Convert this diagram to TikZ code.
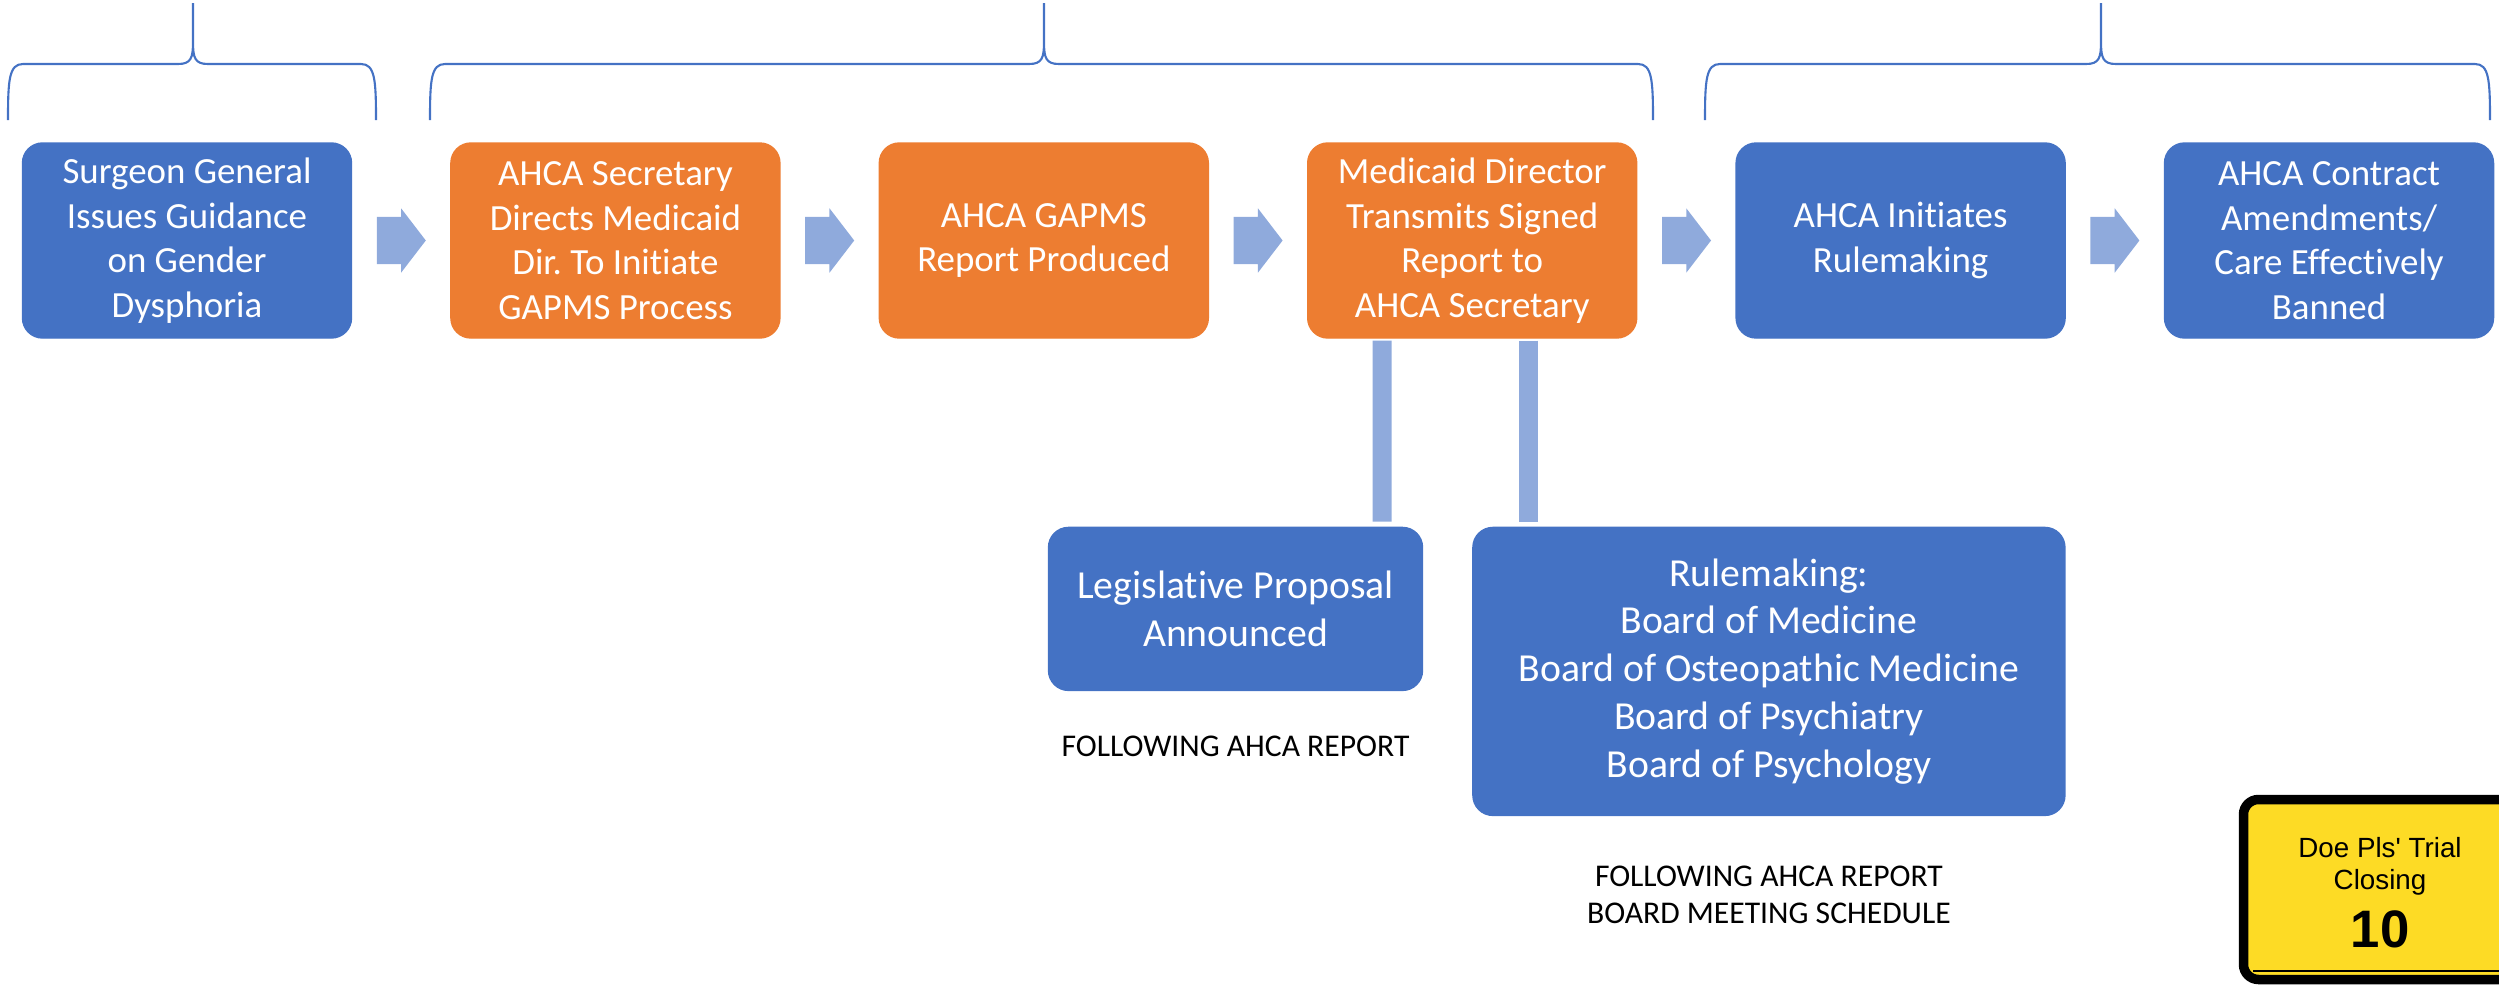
\documentclass[tikz,border=0pt]{standalone}
\usepackage{fontspec}
\setmainfont[Ligatures={NoCommon}]{Carlito}
\newfontfamily\stickerfont{Liberation Sans}
\usepackage{tikz}
\usetikzlibrary{shapes, arrows.meta, positioning}

\definecolor{AhcaBlue}{HTML}{4472C4}
\definecolor{AhcaOrange}{HTML}{ED7D31}
\definecolor{LinkBlue}{HTML}{8FAADC}
\definecolor{StickerYellow}{HTML}{FDDB25}

\frenchspacing
\begin{document}
\begin{tikzpicture}
[
StageNode/.style={rectangle, rounded corners=0.2cm, draw=AhcaBlue, fill=AhcaBlue,
text=white, minimum width=3.29cm, minimum height=1.95cm, align=center,
font=\fontsize{10.5}{12.7}\selectfont},
OrangeNode/.style={StageNode, draw=AhcaOrange, fill=AhcaOrange},
BoardNode/.style={StageNode, font=\fontsize{11.3}{13.6}\selectfont},
NoteNode/.style={align=center, inner sep=0pt, font=\fontsize{9}{10.5}\selectfont},
StepArrow/.style={single arrow, fill=LinkBlue, inner xsep=0pt, inner ysep=0.23cm,
minimum height=0.49cm, minimum width=0.63cm, single arrow head extend=0.085cm,
single arrow tip angle=105, xshift=-0.09cm},
LinkBar/.style={draw=LinkBlue, line width=0.19cm},
BraceLine/.style={draw=AhcaBlue, line width=0.6pt},
StickerNode/.style={rectangle, rounded corners=0.15cm, draw=black, line width=0.095cm,
fill=StickerYellow, minimum width=2.73cm, minimum height=1.8cm, align=center,
font=\stickerfont\fontsize{7.9}{9.1}\selectfont},
node distance=0.98cm
]
\useasboundingbox (0,0) rectangle (24.99,-9.84);

\node[StageNode] (Guidance) at (1.87,-2.405) {Surgeon General\\Issues Guidance\\on Gender\\Dysphoria};
\node[OrangeNode] (Directs) [right=of Guidance] {AHCA Secretary\\Directs Medicaid\\Dir. To Initiate\\GAPMS Process};
\node[OrangeNode] (Report) [right=of Directs] {AHCA GAPMS\\Report Produced};
\node[OrangeNode] (Transmits) [right=of Report] {Medicaid Director\\Transmits Signed\\Report to\\AHCA Secretary};
\node[StageNode] (Initiates) [right=of Transmits] {AHCA Initiates\\Rulemaking};
\node[StageNode] (Banned) [right=of Initiates] {AHCA Contract\\Amendments/\\Care Effectively\\Banned};

\node[BoardNode, minimum width=3.74cm, minimum height=1.63cm] (Legislative)
  [below=1.88cm of Transmits.south, anchor=north east, xshift=-0.49cm] {Legislative Proposal\\Announced};
\node[BoardNode, minimum width=5.92cm, minimum height=2.88cm] (Boards)
  [below=1.88cm of Transmits.south, anchor=north west] {Rulemaking:\\Board of Medicine\\Board of Osteopathic Medicine\\Board of Psychiatry\\Board of Psychology};
\node[NoteNode] (LegislativeNote) [below=0.44cm of Legislative] {FOLLOWING AHCA REPORT};
\node[NoteNode] (BoardsNote) [below=0.49cm of Boards] {FOLLOWING AHCA REPORT\\BOARD MEETING SCHEDULE};

\path (Guidance) -- node[StepArrow] {} (Directs);
\path (Directs) -- node[StepArrow] {} (Report);
\path (Report) -- node[StepArrow] {} (Transmits);
\path (Transmits) -- node[StepArrow] {} (Initiates);
\path (Initiates) -- node[StepArrow] {} (Banned);

\draw[LinkBar] ([xshift=-0.9cm, yshift=-0.02cm]Transmits.south) -- ([xshift=-0.41cm, yshift=0.05cm]Legislative.north east);
\draw[LinkBar] ([xshift=0.56cm, yshift=-0.02cm]Transmits.south) -- ([xshift=0.56cm, yshift=0.05cm]Boards.north west);

% braces over the stages
\foreach \xl/\xt/\xr in {0.08/1.93/3.76, 4.30/10.44/16.53, 17.05/21.01/24.90}
  \draw[BraceLine] (\xl,-1.20) .. controls (\xl,-0.80) and (\xl+0.01,-0.64) .. (\xl+0.15,-0.64)
    -- (\xt-0.15,-0.64) .. controls (\xt-0.02,-0.64) and (\xt,-0.58) .. (\xt,-0.42) -- (\xt,-0.03)
    -- (\xt,-0.42) .. controls (\xt,-0.58) and (\xt+0.02,-0.64) .. (\xt+0.15,-0.64)
    -- (\xr-0.15,-0.64) .. controls (\xr-0.01,-0.64) and (\xr,-0.80) .. (\xr,-1.20);

\begin{scope}
\clip (0,0) rectangle (24.99,-9.84);
\node[StickerNode] (Sticker) at (23.80,-8.895) {\rule{0pt}{7.5pt}Doe Pls' Trial\\Closing\\[0.12cm]{\bfseries\fontsize{15}{15}\selectfont 10}};
\draw[line width=0.6pt] ([xshift=0.145cm, yshift=0.135cm]Sticker.south west) -- ([xshift=-0.145cm, yshift=0.135cm]Sticker.south east);
\end{scope}
\end{tikzpicture}
\end{document}
